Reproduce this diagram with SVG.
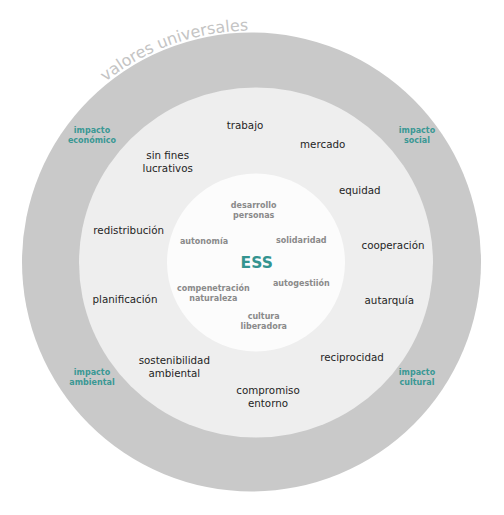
<svg xmlns="http://www.w3.org/2000/svg" xmlns:xlink="http://www.w3.org/1999/xlink" width="504" height="515" viewBox="0 0 504 515">
<defs>
<style>
text{font-family:"DejaVu Sans","Liberation Sans",sans-serif;text-anchor:middle}
.mid{font-size:10.3px;fill:#1e1e1e}
.inn{font-size:8px;font-weight:bold;fill:#8a8a8a}
.imp{font-size:8px;font-weight:bold;fill:#3a9894}
.arc{font-size:16px;fill:#c4c4c4;text-anchor:start}
</style>
<path id="arcPath" d="M105.5,81.7 A232,232 0 0 1 290,34" fill="none"/>
</defs>
<rect width="504" height="515" fill="#ffffff"/>
<g id="rings">
<circle cx="251.5" cy="262" r="229.5" fill="#c9c9c9"/>
<ellipse cx="256" cy="262.5" rx="177" ry="175" fill="#eeeeee"/>
<circle cx="256" cy="262.5" r="89" fill="#fcfcfc"/>
</g>
<g id="valores-universales"><text class="arc"><textPath xlink:href="#arcPath" href="#arcPath">valores universales</textPath></text></g>
<g id="impacto-economico"><text class="imp" x="92" y="132.5">impacto</text><text class="imp" x="92" y="142.5">económico</text></g>
<g id="impacto-social"><text class="imp" x="417" y="132.5">impacto</text><text class="imp" x="417" y="142.5">social</text></g>
<g id="impacto-ambiental"><text class="imp" x="92" y="374.5">impacto</text><text class="imp" x="92" y="384.5">ambiental</text></g>
<g id="impacto-cultural"><text class="imp" x="417" y="374.5">impacto</text><text class="imp" x="417" y="384.5">cultural</text></g>
<g id="trabajo"><text class="mid" x="245" y="129">trabajo</text></g>
<g id="mercado"><text class="mid" x="322.7" y="148.3">mercado</text></g>
<g id="sin-fines"><text class="mid" x="167.7" y="159">sin fines</text><text class="mid" x="167.7" y="171.7">lucrativos</text></g>
<g id="equidad"><text class="mid" x="359.7" y="193.5">equidad</text></g>
<g id="redistribucion"><text class="mid" x="128.7" y="234">redistribución</text></g>
<g id="cooperacion"><text class="mid" x="393" y="248.7">cooperación</text></g>
<g id="planificacion"><text class="mid" x="125" y="303.3">planificación</text></g>
<g id="autarquia"><text class="mid" x="389.3" y="304.3">autarquía</text></g>
<g id="sostenibilidad"><text class="mid" x="174.3" y="364.3">sostenibilidad</text><text class="mid" x="174.3" y="377.3">ambiental</text></g>
<g id="reciprocidad"><text class="mid" x="352" y="360.7">reciprocidad</text></g>
<g id="compromiso"><text class="mid" x="268" y="394.3">compromiso</text><text class="mid" x="268" y="407">entorno</text></g>
<g id="ess"><text x="256.7" y="268.3" style="font-size:15.5px;font-weight:bold;fill:#349490">ESS</text></g>
<g id="desarrollo"><text class="inn" x="253.7" y="208.3">desarrollo</text><text class="inn" x="253.7" y="218.3">personas</text></g>
<g id="autonomia"><text class="inn" x="204" y="244.3">autonomía</text></g>
<g id="solidaridad"><text class="inn" x="301.3" y="243">solidaridad</text></g>
<g id="compenetracion"><text class="inn" x="213.3" y="291">compenetración</text><text class="inn" x="213.3" y="301">naturaleza</text></g>
<g id="autogestion"><text class="inn" x="301.3" y="286">autogestiión</text></g>
<g id="cultura"><text class="inn" x="263.7" y="319.3">cultura</text><text class="inn" x="263.7" y="329.3">liberadora</text></g>
</svg>
